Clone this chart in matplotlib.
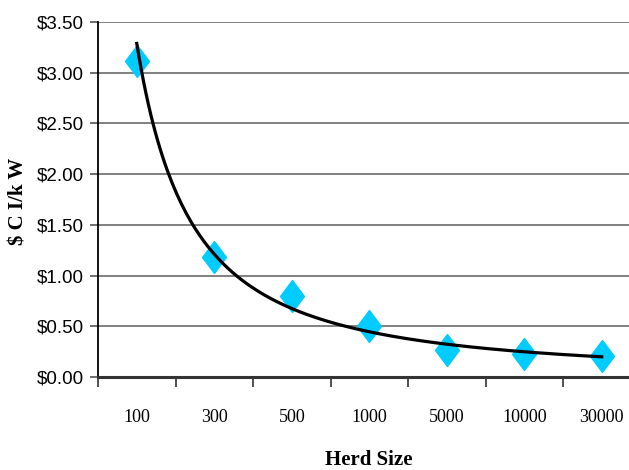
import numpy as np
import matplotlib
matplotlib.use("Agg")
import matplotlib.pyplot as plt
from matplotlib.path import Path

categories = ["100", "300", "500", "1000", "5000", "10000", "30000"]
cost_per_kw = [3.12, 1.18, 0.80, 0.50, 0.27, 0.23, 0.21]
y_ticks = [0.0, 0.5, 1.0, 1.5, 2.0, 2.5, 3.0, 3.5]

fig = plt.figure(figsize=(6.29, 4.70), dpi=100)
ax = fig.add_axes([98/629, 1-377/470, 542.5/629, 355/470])

x = np.arange(1, len(categories) + 1)
# power trendline fitted to the data (as Excel does on category index)
b, lna = np.polyfit(np.log(x), np.log(cost_per_kw), 1)
xf = np.linspace(1, len(categories), 200)
yf = np.exp(lna) * xf ** b

diamond = Path([(0, 1), (0.75, 0), (0, -1), (-0.75, 0), (0, 1)],
               [Path.MOVETO, Path.LINETO, Path.LINETO, Path.LINETO, Path.CLOSEPOLY])

ax.plot(x, cost_per_kw, linestyle="none", marker=diamond, markersize=23,
        markerfacecolor="#00CCFF", markeredgecolor="#00CCFF", zorder=3)
ax.plot(xf, yf, color="black", lw=2.3, zorder=4)

ax.set_xlim(0.5, len(categories) + 0.5)
ax.set_ylim(0, 3.5)
ax.set_yticks(y_ticks)
ax.set_yticklabels([f"${v:.2f}" for v in y_ticks], family="Liberation Sans", fontsize=13.5)
ax.yaxis.grid(True, color="#808080", lw=1.4)
ax.set_axisbelow(True)

ax.set_xticks(np.arange(0.5, len(categories) + 0.6, 1.0))
ax.set_xticklabels([])
ax.set_xticks(x, minor=True)
ax.set_xticklabels(categories, minor=True, family="Liberation Serif", fontsize=13)
ax.tick_params(axis="x", which="minor", length=0, pad=23)
ax.tick_params(axis="x", which="major", length=7, width=1.2, color="#333333", direction="out")
ax.tick_params(axis="y", length=6, width=1.2, color="#555555", direction="out", pad=4)

for s in ["top", "right"]:
    ax.spines[s].set_visible(False)
ax.spines["left"].set_color("black")
ax.spines["left"].set_linewidth(1.3)
ax.spines["bottom"].set_color("#333333")
ax.spines["bottom"].set_linewidth(2.2)

fig.text(369/629, 1-460/470, "Herd Size", family="Liberation Serif", fontweight="bold",
         fontsize=15, ha="center", va="center")
fig.text(19/629, 1-201/470, "$ C I/k W", family="Liberation Serif", fontweight="bold",
         fontsize=15, ha="center", va="center", rotation=90)

fig.savefig("out.png", dpi=100)
